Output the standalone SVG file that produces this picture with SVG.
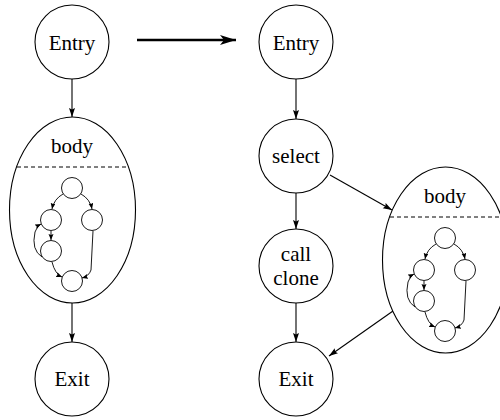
<svg xmlns="http://www.w3.org/2000/svg" width="500" height="420" viewBox="0 0 500 420">
<defs>
<marker id="a" markerUnits="userSpaceOnUse" markerWidth="10" markerHeight="8" refX="9" refY="3" orient="auto"><path d="M0,0 L9,3 L0,6 L1.5,3 Z" fill="#000"/></marker>
<marker id="b" markerUnits="userSpaceOnUse" markerWidth="18" markerHeight="12" refX="16" refY="5" orient="auto"><path d="M0,0 L16,5 L0,10 L4,5 Z" fill="#000"/></marker>
<marker id="i" markerUnits="userSpaceOnUse" markerWidth="8" markerHeight="8" refX="6" refY="2.5" orient="auto"><path d="M0,0 L6,2.5 L0,5 L1,2.5 Z" fill="#000"/></marker>
</defs>
<g id="connectors" fill="none" stroke="#000" stroke-width="1.1">
<line stroke-width="2.4" x1="137" y1="40" x2="236" y2="40" marker-end="url(#b)"/>
<line x1="72" y1="79" x2="72" y2="117" marker-end="url(#a)"/>
<line x1="72" y1="303" x2="72" y2="342" marker-end="url(#a)"/>
<line x1="296" y1="79" x2="296" y2="119" marker-end="url(#a)"/>
<line x1="296" y1="193" x2="296" y2="229" marker-end="url(#a)"/>
<line x1="296" y1="303" x2="296" y2="342" marker-end="url(#a)"/>
<line x1="330" y1="175" x2="392" y2="210" marker-end="url(#a)"/>
<line x1="393" y1="311" x2="329" y2="356" marker-end="url(#a)"/>
</g>
<g id="entry1"><circle fill="#fff" stroke="#000" stroke-width="1.1" cx="72" cy="42" r="37"/><text font-family="Liberation Serif" font-size="21" text-anchor="middle" x="72" y="50">Entry</text></g>
<g id="body1">
<ellipse fill="#fff" stroke="#000" stroke-width="1.1" cx="72.5" cy="210" rx="63" ry="93"/>
<text font-family="Liberation Serif" font-size="21" text-anchor="middle" x="72" y="153">body</text>
<line stroke="#000" stroke-dasharray="4,3" x1="17" y1="167" x2="128" y2="167"/>
<g id="inner1" fill="none" stroke="#000" stroke-width="0.9">
<circle cx="72" cy="188" r="10.5"/>
<circle cx="51" cy="220" r="10.5"/>
<circle cx="92" cy="220" r="10.5"/>
<circle cx="51" cy="251" r="10.5"/>
<circle cx="72" cy="281" r="10.5"/>
<path d="M63,194 Q54,199 52,209" marker-end="url(#i)"/>
<path d="M81,194 Q90,199 92,209" marker-end="url(#i)"/>
<path d="M51,231 L51,240" marker-end="url(#i)"/>
<path d="M42,257 Q31,250 35,232 Q37,226 41,224" marker-end="url(#i)"/>
<path d="M52,262 Q55,274 62,277" marker-end="url(#i)"/>
<path d="M93,231 L91,270 Q89,276 82,278" marker-end="url(#i)"/>
</g>
</g>
<g id="exit1"><circle fill="#fff" stroke="#000" stroke-width="1.1" cx="72" cy="379" r="37"/><text font-family="Liberation Serif" font-size="21" text-anchor="middle" x="72" y="386">Exit</text></g>
<g id="entry2"><circle fill="#fff" stroke="#000" stroke-width="1.1" cx="296" cy="42" r="37"/><text font-family="Liberation Serif" font-size="21" text-anchor="middle" x="296" y="50">Entry</text></g>
<g id="select"><circle fill="#fff" stroke="#000" stroke-width="1.1" cx="296" cy="156" r="37"/><text font-family="Liberation Serif" font-size="21" text-anchor="middle" x="296" y="163">select</text></g>
<g id="callclone"><circle fill="#fff" stroke="#000" stroke-width="1.1" cx="296" cy="266" r="37"/><text font-family="Liberation Serif" font-size="21" text-anchor="middle" x="296" y="261">call</text><text font-family="Liberation Serif" font-size="21" text-anchor="middle" x="296" y="285">clone</text></g>
<g id="exit2"><circle fill="#fff" stroke="#000" stroke-width="1.1" cx="296" cy="379" r="37"/><text font-family="Liberation Serif" font-size="21" text-anchor="middle" x="296" y="386">Exit</text></g>
<g id="body2">
<ellipse fill="#fff" stroke="#000" stroke-width="1.1" cx="445.5" cy="260" rx="63" ry="93"/>
<text font-family="Liberation Serif" font-size="21" text-anchor="middle" x="445" y="203">body</text>
<line stroke="#000" stroke-dasharray="4,3" x1="390" y1="217" x2="501" y2="217"/>
<g id="inner2" transform="translate(373,50)" fill="none" stroke="#000" stroke-width="0.9">
<circle cx="72" cy="188" r="10.5"/>
<circle cx="51" cy="220" r="10.5"/>
<circle cx="92" cy="220" r="10.5"/>
<circle cx="51" cy="251" r="10.5"/>
<circle cx="72" cy="281" r="10.5"/>
<path d="M63,194 Q54,199 52,209" marker-end="url(#i)"/>
<path d="M81,194 Q90,199 92,209" marker-end="url(#i)"/>
<path d="M51,231 L51,240" marker-end="url(#i)"/>
<path d="M42,257 Q31,250 35,232 Q37,226 41,224" marker-end="url(#i)"/>
<path d="M52,262 Q55,274 62,277" marker-end="url(#i)"/>
<path d="M93,231 L91,270 Q89,276 82,278" marker-end="url(#i)"/>
</g>
</g>
</svg>
